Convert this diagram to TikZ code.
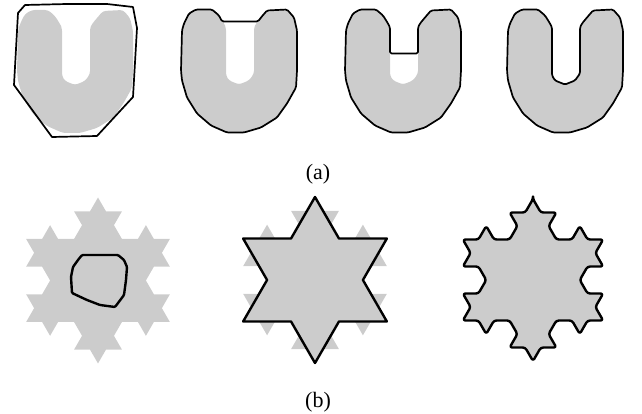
\documentclass[tikz,border=0pt]{standalone}
\usepackage{fontspec}
\setmainfont{Liberation Serif}
\definecolor{shapegray}{RGB}{204,204,204}
\newcommand\kochtwo[3]{(#1,#2) \foreach \a in {-60,0,-120,-60,0,60,-60,0,-120,-60,-180,-120,-60,0,-120,-60,180,240,120,180,240,300,180,240,120,180,60,120,180,240,120,180,60,120,0,60,120,180,60,120,0,60,-60,0,60,120,0,60}{ -- ++(\a:#3) } -- cycle}
\newcommand\kochone[3]{(#1,#2) \foreach \a in {-60,0,-120,-60,180,240,120,180,60,120,0,60}{ -- ++(\a:#3) } -- cycle}
\newcommand\Ufill{(45,18)--(45,66)--(48,71)--(58,75)--(68,71)--(73,64)--(73,18)--(75,14)--(80,8)--(86,1)--(106,0)--(113,8)--(116,21)--(116,61)--(115,78)--(106,94)--(96,108)--(80,118)--(63,123)--(46,123)--(30,116)--(16,104)--(6,88)--(1,71)--(0,61)--(1,21)--(3,14)--(8,4)--(15,0)--(31,0)--(38,6)--(43,14)--cycle}
\newcommand\Uouter{(80,8)--(86,1)--(106,0)--(113,8)--(116,21)--(116,61)--(115,78)--(106,94)--(96,108)--(80,118)--(63,123)--(46,123)--(30,116)--(16,104)--(6,88)--(1,71)--(0,61)--(1,21)--(3,14)--(8,4)--(15,0)--(31,0)--(38,6)}
\begin{document}
\begin{tikzpicture}[x=1pt,y=-1pt,line join=round,
  gobj/.style={fill=shapegray,draw=none,rounded corners=3pt},
  contour/.style={draw=black,line width=1.7pt,rounded corners=1.5pt},
  heavy/.style={draw=black,line width=2.4pt},
  lbl/.style={font=\fontsize{22}{26}\selectfont,inner sep=0pt}]
\useasboundingbox (0,0) rectangle (642,414);
% ---- row (a) ----
\begin{scope}[shift={(17,10)}]
  \path[gobj] \Ufill;
\end{scope}
\draw[contour,rounded corners=0pt] (25,5)--(18,13)--(14,85)--(52,137)--(97,136)--(133,97)--(137,28)--(133,7)--(107,4)--(67,4)--cycle;
\begin{scope}[shift={(181,9.5)}]
  \path[gobj] \Ufill;
  \draw[contour] (41,12)--(77,12)--\Uouter--cycle;
\end{scope}
\begin{scope}[shift={(345,9.5)}]
  \path[gobj] \Ufill;
  \draw[contour] (43,14)--(45,18)--(45,44)--(73,44)--(73,18)--(75,14)--\Uouter--cycle;
\end{scope}
\begin{scope}[shift={(507,9.5)}]
  \path[gobj] \Ufill;
  \draw[contour] \Ufill;
\end{scope}
\node[lbl] (la) at (318,174) {(a)};
% ---- row (b) ----
\fill[shapegray] \kochtwo{98}{197.5}{15.97pt};
\draw[heavy,rounded corners=1pt] (82,255)--(118,255)--(124,260)--(127,267)--(126,280)--(124,295)--(115,307)--(100,305)--(87,300)--(72,293)--(71,277)--(73,267)--(78,260)--cycle;
\fill[shapegray] \kochtwo{315}{197}{15.97pt};
\draw[heavy,fill=shapegray] \kochone{315}{197}{47.92pt};
\fill[shapegray] \kochtwo{533}{199}{15.59pt};
\draw[heavy,rounded corners=2.5pt] \kochtwo{533}{199}{15.59pt};
\node[lbl] (lb) at (318,402) {(b)};
\end{tikzpicture}
\end{document}
